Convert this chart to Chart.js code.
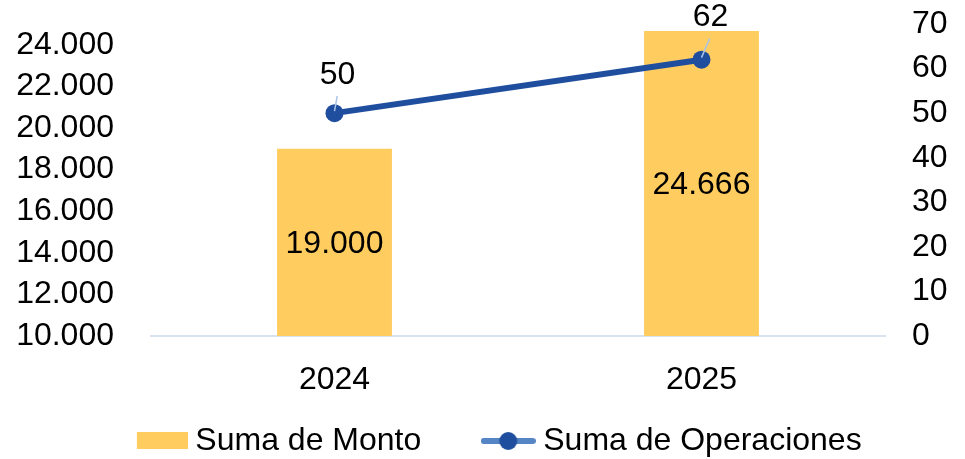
<!DOCTYPE html>
<html>
<head>
<meta charset="utf-8">
<script src="https://cdn.jsdelivr.net/npm/chart.js@4/dist/chart.umd.min.js"></script>
<style>
  html, body { margin: 0; padding: 0; background: #fff; }
  #wrap { width: 965px; height: 459px; }
</style>
</head>
<body>
<div id="wrap"><canvas id="chart"></canvas></div>
<script>
// données
const anios = ['2024', '2025'];
const sumaMonto = [19000, 24666];
const sumaOperaciones = [50, 62];
const ticksMonto = [10000, 12000, 14000, 16000, 18000, 20000, 22000, 24000];

const FONT = "'Liberation Sans', Arial, sans-serif";
const FS = 32;
const fmt = v => String(v).replace(/\B(?=(\d{3})+(?!\d))/g, '.');

// icônes de légende
function legendIcon(kind) {
  const c = document.createElement('canvas');
  c.width = 55; c.height = 20;
  const g = c.getContext('2d');
  if (kind === 'bar') {
    g.fillStyle = '#FFCD5F';
    g.fillRect(4, 1, 51, 17);
  } else {
    g.strokeStyle = '#5585C4';
    g.lineWidth = 6;
    g.lineCap = 'round';
    g.beginPath(); g.moveTo(3, 10); g.lineTo(52, 10); g.stroke();
    g.fillStyle = '#1F4E9E';
    g.beginPath(); g.arc(27.5, 10, 9, 0, Math.PI * 2); g.fill();
  }
  return c;
}

// étiquettes de données
const valueLabels = {
  id: 'valueLabels',
  afterDatasetsDraw(chart) {
    const ctx = chart.ctx;
    ctx.save();
    ctx.font = FS + 'px ' + FONT;
    ctx.fillStyle = '#000';
    ctx.textAlign = 'center';
    ctx.textBaseline = 'middle';
    chart.getDatasetMeta(0).data.forEach((bar, i) => {
      const base = Math.min(bar.base, chart.chartArea.bottom);
      ctx.fillText(fmt(sumaMonto[i]), bar.x, (bar.y + base) / 2 + 2);
    });
    const offs = [[3, -38], [9, -42]];
    chart.getDatasetMeta(1).data.forEach((pt, i) => {
      const [dx, dy] = offs[i];
      ctx.strokeStyle = '#A9C4E8';
      ctx.lineWidth = 1.5;
      ctx.beginPath();
      ctx.moveTo(pt.x, pt.y - 2);
      ctx.lineTo(pt.x + dx * 0.9, pt.y + dy + 21);
      ctx.stroke();
      ctx.fillText(fmt(sumaOperaciones[i]), pt.x + dx, pt.y + dy);
    });
    ctx.restore();
  }
};

// légende : on la remonte juste sous les années
const moveLegend = {
  id: 'moveLegend',
  afterLayout(chart) {
    const lg = chart.legend;
    const dy = lg.top - 357;
    lg.top -= dy; lg.bottom -= dy;
    lg.left += 19; lg.right += 19;
  }
};

const noPad = s => { s.paddingTop = 0; s.paddingBottom = 0; };

new Chart(document.getElementById('chart'), {
  data: {
    labels: anios,
    datasets: [
      {
        type: 'bar',
        label: 'Suma de Monto',
        data: sumaMonto,
        yAxisID: 'y',
        backgroundColor: '#FFCD5F',
        categoryPercentage: 1,
        barPercentage: 0.313,
        order: 2
      },
      {
        type: 'line',
        label: 'Suma de Operaciones',
        data: sumaOperaciones,
        yAxisID: 'y1',
        borderColor: '#1F4E9E',
        backgroundColor: '#1F4E9E',
        borderWidth: 6,
        pointRadius: 9,
        pointHoverRadius: 9,
        pointBackgroundColor: '#1F4E9E',
        pointBorderWidth: 0,
        order: 1
      }
    ]
  },
  plugins: [valueLabels, moveLegend],
  options: {
    responsive: true,
    maintainAspectRatio: false,
    animation: false,
    layout: { padding: { top: 24, left: 0, right: 0, bottom: -49 } },
    plugins: {
      tooltip: { enabled: false },
      legend: {
        position: 'bottom',
        labels: {
          font: { family: FONT, size: FS },
          color: '#000',
          usePointStyle: true,
          pointStyleWidth: 38,
          padding: 68,
          generateLabels(chart) {
            return chart.data.datasets.map((ds, i) => ({
              text: ds.label,
              pointStyle: legendIcon(i === 0 ? 'bar' : 'line'),
              fillStyle: 'transparent',
              strokeStyle: 'transparent',
              lineWidth: 0,
              fontColor: '#000',
              datasetIndex: i,
              hidden: false
            }));
          }
        }
      }
    },
    scales: {
      x: {
        grid: { display: false },
        border: { display: true, color: '#D6E2F0', width: 2 },
        ticks: { font: { family: FONT, size: FS }, color: '#000', padding: 17 },
        afterFit(s) { s.height = 62; }
      },
      y: {
        position: 'left',
        min: 10000,
        max: 25000,
        afterBuildTicks(s) { s.ticks = ticksMonto.map(v => ({ value: v })); },
        grid: { display: false },
        border: { display: false },
        ticks: {
          autoSkip: false,
          font: { family: FONT, size: FS },
          color: '#000',
          padding: 29,
          callback: v => fmt(v)
        },
        afterFit(s) { s.width = 151; noPad(s); }
      },
      y1: {
        position: 'right',
        min: 0,
        max: 70,
        grid: { display: false },
        border: { display: false },
        ticks: {
          autoSkip: false,
          stepSize: 10,
          font: { family: FONT, size: FS },
          color: '#000',
          padding: 19
        },
        afterFit(s) { s.width = 80; noPad(s); }
      }
    }
  }
});
</script>
</body>
</html>
